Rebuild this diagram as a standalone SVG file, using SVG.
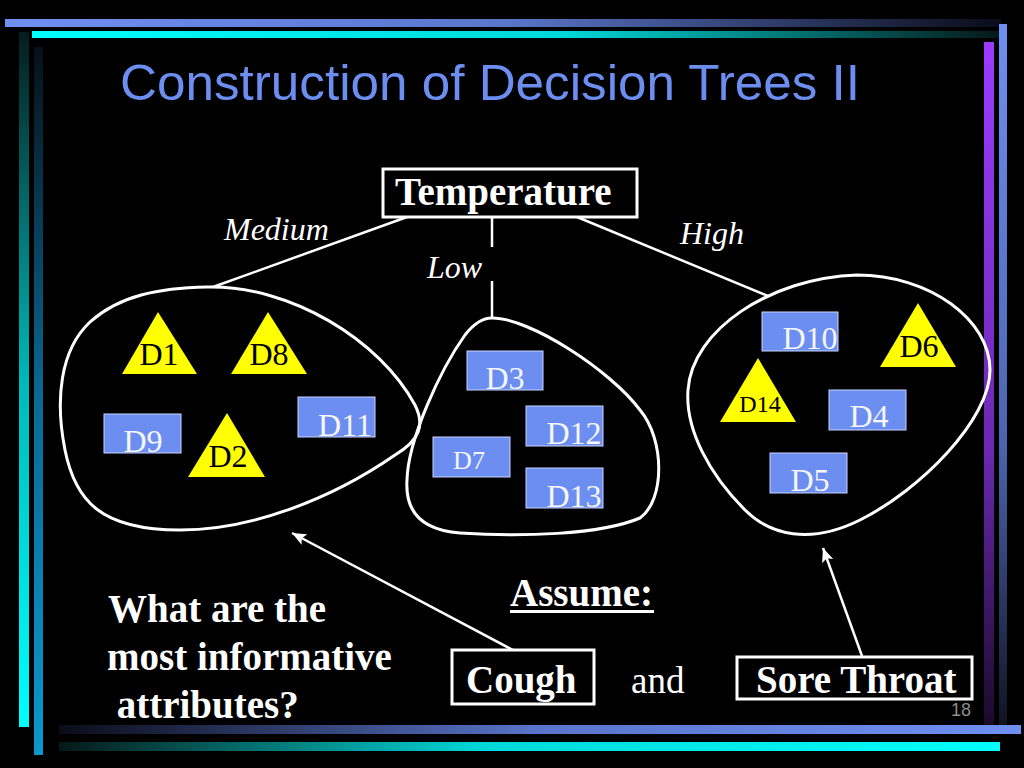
<svg xmlns="http://www.w3.org/2000/svg" width="1024" height="768" viewBox="0 0 1024 768">
<defs>
<linearGradient id="gTopBlue" x1="0" y1="0" x2="1" y2="0"><stop offset="0" stop-color="#6f8ff2"/><stop offset="0.5" stop-color="#5a76cc"/><stop offset="1" stop-color="#0a0c18"/></linearGradient>
<linearGradient id="gTopCyan" x1="0" y1="0" x2="1" y2="0"><stop offset="0" stop-color="#00ffff"/><stop offset="0.55" stop-color="#00d8d8"/><stop offset="1" stop-color="#061818"/></linearGradient>
<linearGradient id="gBotBlue" x1="0" y1="0" x2="1" y2="0"><stop offset="0" stop-color="#0a0c18"/><stop offset="0.5" stop-color="#5a76cc"/><stop offset="1" stop-color="#6f8ff2"/></linearGradient>
<linearGradient id="gBotCyan" x1="0" y1="0" x2="1" y2="0"><stop offset="0" stop-color="#061818"/><stop offset="0.45" stop-color="#00d8d8"/><stop offset="1" stop-color="#00ffff"/></linearGradient>
<linearGradient id="gLeftCyan" x1="0" y1="0" x2="0" y2="1"><stop offset="0" stop-color="#061c1c"/><stop offset="0.5" stop-color="#00b8b8"/><stop offset="1" stop-color="#00ffff"/></linearGradient>
<linearGradient id="gLeftBlue" x1="0" y1="0" x2="0" y2="1"><stop offset="0" stop-color="#061018"/><stop offset="0.5" stop-color="#0a6a96"/><stop offset="1" stop-color="#0a98cc"/></linearGradient>
<linearGradient id="gRightPurple" x1="0" y1="0" x2="0" y2="1"><stop offset="0" stop-color="#9a3cff"/><stop offset="0.6" stop-color="#6a28b0"/><stop offset="1" stop-color="#1a0a2a"/></linearGradient>
<linearGradient id="gRightBlue" x1="0" y1="0" x2="0" y2="1"><stop offset="0" stop-color="#6f8ff2"/><stop offset="0.6" stop-color="#4a64b0"/><stop offset="1" stop-color="#101420"/></linearGradient>
<marker id="arrow" markerUnits="userSpaceOnUse" markerWidth="16" markerHeight="12" refX="14" refY="6" orient="auto">
<path d="M0,0 L14,6 L0,12 L3,6 Z" fill="#ffffff"/>
</marker>
<style>
.serif{font-family:"Liberation Serif","Times New Roman",serif;}
.blob{fill:none;stroke:#ffffff;stroke-width:3;}
.edge{stroke:#ffffff;stroke-width:2.5;fill:none;}
.box{fill:#000000;stroke:#ffffff;stroke-width:3;}
.blue rect{fill:#6b8ef0;stroke:#c8d4ff;stroke-width:1;}
.blue text{fill:#f6f6ff;font-family:"Liberation Serif","Times New Roman",serif;font-size:32px;text-anchor:middle;}
.tri polygon{fill:#ffff00;}
.tri text{fill:#000000;font-family:"Liberation Serif","Times New Roman",serif;font-size:32px;text-anchor:middle;}
.lbl{fill:#ffffff;font-family:"Liberation Serif","Times New Roman",serif;font-style:italic;font-size:32px;}
.big{fill:#ffffff;font-family:"Liberation Serif","Times New Roman",serif;font-weight:bold;font-size:39px;}
</style>
</defs>
<rect x="0" y="0" width="1024" height="768" fill="#000000"/>
<g id="decor">
<rect x="5" y="19" width="996" height="8" fill="url(#gTopBlue)"/>
<rect x="32" y="31" width="969" height="7" fill="url(#gTopCyan)"/>
<rect x="19" y="32" width="10" height="695" fill="url(#gLeftCyan)"/>
<rect x="34" y="47" width="9" height="708" fill="url(#gLeftBlue)"/>
<rect x="984" y="42" width="10" height="683" fill="url(#gRightPurple)"/>
<rect x="999" y="24" width="8" height="701" fill="url(#gRightBlue)"/>
<rect x="59" y="725" width="962" height="9" fill="url(#gBotBlue)"/>
<rect x="59" y="742" width="941" height="9" fill="url(#gBotCyan)"/>
<text x="971" y="716" font-family="Liberation Sans, Arial, sans-serif" font-size="18" fill="#8c8c8c" text-anchor="end">18</text>
</g>
<text id="title" x="120" y="100" font-family="Liberation Sans, Arial, sans-serif" font-size="50" fill="#6b8ef0" textLength="740" lengthAdjust="spacingAndGlyphs">Construction of Decision Trees II</text>
<g id="connectors">
<line class="edge" x1="407" y1="217" x2="213" y2="287"/>
<line class="edge" x1="577" y1="217" x2="768" y2="296"/>
<line class="edge" x1="492" y1="217" x2="492" y2="247"/>
<line class="edge" x1="492" y1="281" x2="492" y2="318"/>
<line class="edge" x1="526" y1="657" x2="292" y2="533" marker-end="url(#arrow)"/>
<line class="edge" x1="862" y1="656" x2="823" y2="548" marker-end="url(#arrow)"/>
</g>
<g id="edge-labels">
<text class="lbl" x="224" y="240">Medium</text>
<text class="lbl" x="427" y="278">Low</text>
<text class="lbl" x="680" y="244">High</text>
</g>
<g id="temperature">
<rect class="box" x="383" y="169" width="254" height="48"/>
<text class="big" x="395" y="205">Temperature</text>
</g>
<g id="group-medium">
<path class="blob" d="M207,287 C290,285 380,340 415,405 C425,425 420,440 395,455 C330,500 250,530 180,530 C100,530 75,500 65,450 C55,400 60,350 90,322 C120,295 160,288 207,287 Z"/>
<g id="D1" class="tri"><polygon points="158,312 197,374 122,374"/><text x="159" y="365">D1</text></g>
<g id="D8" class="tri"><polygon points="268,312 307,374 231,374"/><text x="269" y="365">D8</text></g>
<g id="D2" class="tri"><polygon points="227,413 265,477 188,477"/><text x="228" y="467">D2</text></g>
<g id="D9" class="blue"><rect x="104" y="414" width="77" height="39"/><text x="143" y="452">D9</text></g>
<g id="D11" class="blue"><rect x="298" y="397" width="77" height="40"/><text x="345" y="436">D11</text></g>
</g>
<g id="group-low">
<path class="blob" d="M492,318 C530,318 610,370 640,410 C665,440 665,500 640,518 C600,535 520,537 460,533 C420,530 405,510 407,480 C408,440 440,370 465,335 C475,322 483,318 492,318 Z"/>
<g id="D3" class="blue"><rect x="467" y="351" width="76" height="39"/><text x="505" y="389">D3</text></g>
<g id="D12" class="blue"><rect x="526" y="406" width="77" height="40"/><text x="574" y="444">D12</text></g>
<g id="D7" class="blue"><rect x="433" y="437" width="77" height="40"/><text x="469" y="469" style="font-size:26px">D7</text></g>
<g id="D13" class="blue"><rect x="526" y="468" width="77" height="40"/><text x="574" y="507">D13</text></g>
</g>
<g id="group-high">
<path class="blob" d="M857,275 C930,275 990,320 990,370 C990,420 920,490 860,520 C810,545 770,535 745,510 C710,475 685,430 688,390 C692,330 770,278 857,275 Z"/>
<g id="D10" class="blue"><rect x="762" y="312" width="76" height="39"/><text x="810" y="349">D10</text></g>
<g id="D6" class="tri"><polygon points="918,303 956,367 880,367"/><text x="919" y="357">D6</text></g>
<g id="D14" class="tri"><polygon points="758,358 796,422 720,422"/><text x="760" y="412" style="font-size:24px">D14</text></g>
<g id="D4" class="blue"><rect x="829" y="390" width="77" height="40"/><text x="869" y="427">D4</text></g>
<g id="D5" class="blue"><rect x="770" y="453" width="77" height="40"/><text x="810" y="491">D5</text></g>
</g>
<g id="question">
<text class="big" x="108" y="622">What are the</text>
<text class="big" x="107" y="670">most informative</text>
<text class="big" x="107" y="718" xml:space="preserve"> attributes?</text>
</g>
<g id="assume">
<text class="big" x="510" y="606">Assume:</text>
<rect x="510" y="610" width="144" height="3" fill="#ffffff"/>
</g>
<g id="cough">
<rect class="box" x="452" y="650" width="142" height="54"/>
<text class="big" x="466" y="693">Cough</text>
</g>
<text id="and" class="serif" x="631" y="693" font-size="37" fill="#ffffff">and</text>
<g id="sore-throat">
<rect class="box" x="737" y="657" width="235" height="42"/>
<text class="big" x="756" y="693">Sore Throat</text>
</g>
</svg>
